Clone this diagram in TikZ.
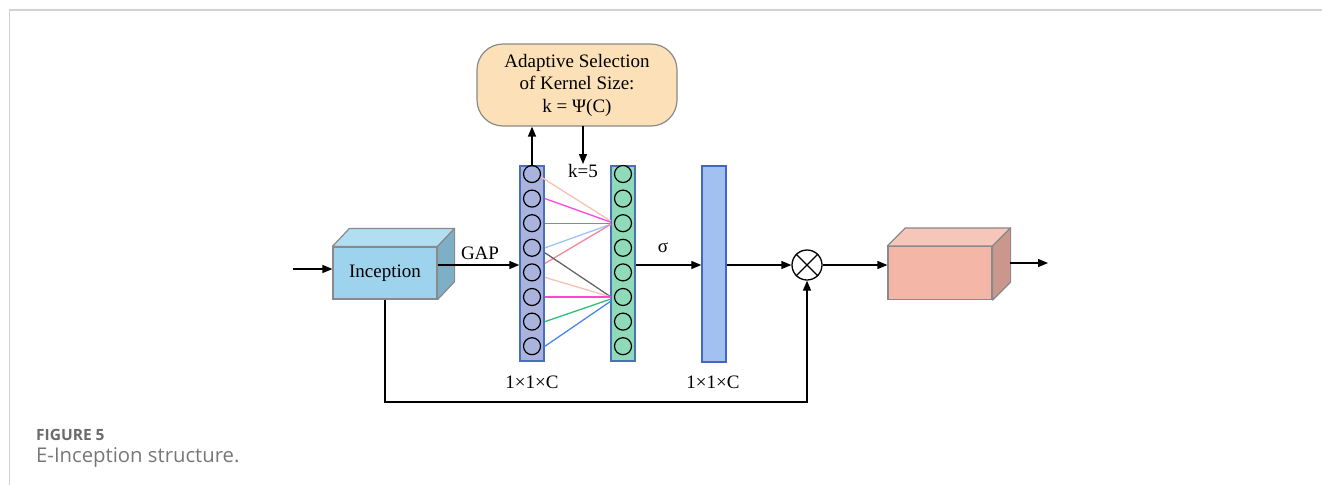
\documentclass[tikz,border=0pt]{standalone}
\usepackage{fontspec}
\setmainfont{Liberation Serif}
\newfontfamily\capfont{Open Sans}
\usetikzlibrary{arrows.meta,calc}

\definecolor{frameline}{HTML}{D2D2D2}
\definecolor{facegray}{HTML}{8A8A8A}
\definecolor{incfront}{HTML}{9DD3EC}
\definecolor{inctop}{HTML}{B2DEF1}
\definecolor{incside}{HTML}{7FAFC6}
\definecolor{outfront}{HTML}{F4B6A7}
\definecolor{outtop}{HTML}{F6C6BA}
\definecolor{outside}{HTML}{C9978C}
\definecolor{adaptfill}{HTML}{FCE0B8}
\definecolor{barblue}{HTML}{A9B3DD}
\definecolor{bargreen}{HTML}{8FDAB9}
\definecolor{barsig}{HTML}{A3C1F0}
\definecolor{barline}{HTML}{4A70BC}
\definecolor{lpeach}{HTML}{F5C2AF}
\definecolor{lmagenta}{HTML}{FF45DC}
\definecolor{lgreen}{HTML}{2DBE78}
\definecolor{llblue}{HTML}{9CC3F5}
\definecolor{lpink}{HTML}{F0879A}
\definecolor{lgray}{HTML}{666666}
\definecolor{lblue}{HTML}{4A86E8}
\definecolor{capgray}{HTML}{777777}

\tikzset{
  arr/.style={line width=1.3pt, -{Triangle[length=10pt,width=8pt]}},
  plain/.style={line width=1.3pt},
  front/.style={draw=facegray, line width=1.2pt, minimum width=104pt, minimum height=52pt, inner sep=0pt},
  facebox/.style={draw=facegray, line width=1.2pt, line join=round},
  bar/.style={draw=barline, line width=1.4pt, minimum width=24pt, minimum height=195pt, inner sep=0pt},
  cell/.style={circle, draw=black, line width=1.2pt, minimum size=17pt, inner sep=0pt},
  link/.style={line width=1.3pt},
  lbl/.style={font=\fontsize{19}{22}\selectfont, inner sep=0pt},
}

\begin{document}
\begin{tikzpicture}[x=1pt, y=-1pt]
\useasboundingbox (0,0) rectangle (1322,485);

% page frame
\draw[frameline, line width=2pt] (9,9.5) -- (1322,9.5);
\draw[frameline, line width=1.5pt] (9.5,9) -- (9.5,485);

% Inception block (front, top and side faces)
\node[front, fill=incfront] (inc) at (385,273) {};
\draw[facebox, fill=inctop] (inc.north west) -- ++(17,-18) -- ($(inc.north east)+(17,-18)$) -- (inc.north east) -- cycle;
\draw[facebox, fill=incside] (inc.north east) -- ++(17,-18) -- ($(inc.south east)+(17,-18)$) -- (inc.south east) -- cycle;
\node[lbl] at (inc.center) {Inception};

% output block
\node[front, fill=outfront, minimum height=53pt] (out) at (940,273) {};
\draw[facebox, fill=outtop] (out.north west) -- ++(18,-18) -- ($(out.north east)+(18,-18)$) -- (out.north east) -- cycle;
\draw[facebox, fill=outside] (out.north east) -- ++(18,-18) -- ($(out.south east)+(18,-18)$) -- (out.south east) -- cycle;

% channel vectors
\node[bar, fill=barblue] (barA) at (532,263.5) {};
\node[bar, fill=bargreen] (barB) at (623,263.5) {};
\node[bar, fill=barsig, minimum height=196pt, draw=barline!90!blue] (barC) at (714,264) {};

\foreach \i in {1,...,8} {
  \node[cell] (b\i) at (532,{174+(\i-1)*24.6}) {};
  \node[cell, fill=bargreen] (g\i) at (623,{174+(\i-1)*24.6}) {};
}

% 1D convolution links with k=5
\draw[link, lpeach]   ($(b1)+(9,3)$)   -- ($(g3)+(-12,-2)$);
\draw[link, lmagenta] ($(b2)+(13,0)$)  -- ($(g3)+(-12,-1)$);
\draw[link, lgreen]   ($(b3)+(13,0)$)  -- ($(g3)+(-12,0)$);
\draw[link, llblue]   ($(b4)+(13,0)$)  -- ($(g3)+(-12,1)$);
\draw[link, lpink]    ($(b5)+(13,-9)$) -- ($(g3)+(-12,1)$);
\draw[link, lgray]    ($(b4)+(13,5)$)  -- ($(g6)+(-12,0)$);
\draw[link, lpeach]   ($(b5)+(13,5)$)  -- ($(g6)+(-12,0)$);
\draw[link, lmagenta] ($(b6)+(13,0)$)  -- ($(g6)+(-12,0)$);
\draw[link, lgreen]   ($(b7)+(13,0)$)  -- ($(g6)+(-12,2)$);
\draw[link, lblue]    ($(b8)+(13,0)$)  -- ($(g6)+(-12,4)$);

% kernel size selection
\node[draw=facegray, line width=1.2pt, fill=adaptfill, rounded corners=26pt,
      minimum width=200pt, minimum height=82pt, align=center,
      font=\fontsize{19}{22.5}\selectfont] (adapt) at (577,85)
  {Adaptive Selection\\of Kernel Size:\\k = Ψ(C)};
\draw[arr] (b1.north) -- (b1.north |- adapt.south);
\node[lbl, anchor=north] (k5) at (583,164) {k=5};
\draw[arr] (583,126) -- (k5.north);

% multiplication node
\node[circle, draw=black, line width=1.3pt, minimum size=30pt, inner sep=0pt] (mult) at (807,265) {};
\draw[plain] (mult.45) -- (mult.225);
\draw[plain] (mult.135) -- (mult.315);

% main flow
\coordinate (inp) at (293,269);
\draw[arr] (inp) -- (inc.west |- inp);
\draw[arr] (inc.east |- 0,265) -- (barA.west |- 0,265);
\node[lbl, anchor=south] (gap) at (480,260) {GAP};
\draw[arr] (barB.east |- 0,265) -- (barC.west |- 0,265);
\node[lbl, anchor=south] (sig) at (663,253) {σ};
\draw[arr] (barC.east |- mult) -- (mult.west);
\draw[arr] (mult.east) -- (out.west |- mult);
\coordinate (outstart) at (1010,263);
\coordinate (outend) at (1048,263);
\draw[arr] (outstart) -- (outend);

% skip connection
\coordinate (skip) at (807,402);
\draw[arr] (inc.south) |- (skip) -- (mult.south);

% shape labels
\node[lbl] (dimA) at (532,382) {1×1×C};
\node[lbl] (dimC) at (713,382) {1×1×C};

% caption
\node[anchor=base west, inner sep=0pt, text=capgray!90!black, font=\capfont\bfseries\fontsize{15.5}{18}\selectfont] (fig) at (36,440) {FIGURE 5};
\node[anchor=base west, inner sep=0pt, text=capgray, font=\capfont\fontsize{20.3}{24}\selectfont] (cap) at (36,462) {E-Inception structure.};
\end{tikzpicture}
\end{document}
